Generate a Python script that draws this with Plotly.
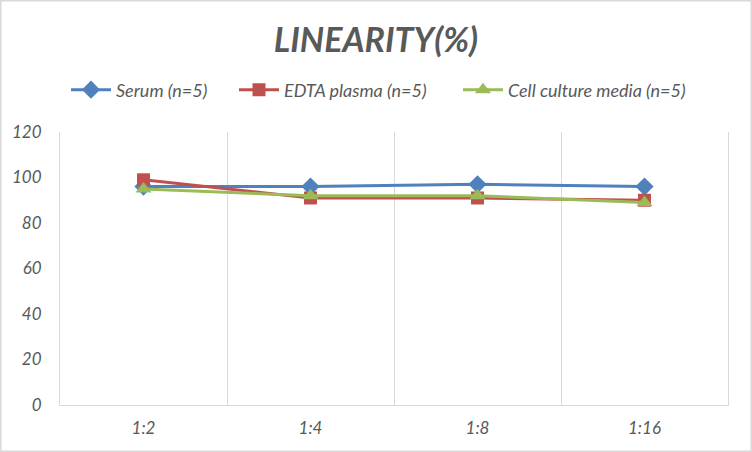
import plotly.graph_objects as go

categories = ["1:2", "1:4", "1:8", "1:16"]
serum = [96, 96, 97, 96]
edta = [99, 91, 91, 90]
cell = [95, 92, 92, 89]
y_ticks = [0, 20, 40, 60, 80, 100, 120]

series = [
    ("Serum (n=5)", serum, "#4F81BD", "diamond", 14, "legend", 66),
    ("EDTA plasma (n=5)", edta, "#C0504D", "square", 13, "legend2", 234),
    ("Cell culture media (n=5)", cell, "#9BBB59", "triangle-up", 14, "legend3", 458),
]

fig = go.Figure()
for name, vals, color, sym, sz, leg, _ in series:
    fig.add_trace(go.Scatter(
        x=categories, y=vals, name=name, mode="lines+markers",
        line=dict(color=color, width=3),
        marker=dict(symbol=sym, size=sz, color=color),
        legend=leg,
    ))

font_family = "Lato, 'Open Sans', sans-serif"
L, R, T, B = 60, 24, 132, 47
pw, ph = 752 - L - R, 452 - T - B

legend_common = dict(
    orientation="h", xanchor="left", y=1 + 42 / ph, yanchor="middle",
    font=dict(family=font_family, size=18, color="#595959", style="italic"),
    itemwidth=40, bgcolor="rgba(0,0,0,0)",
)
legends = {}
for _, _, _, _, _, leg, xpx in series:
    legends[leg] = dict(legend_common, x=(xpx - L) / pw)

fig.update_layout(
    width=752, height=452,
    paper_bgcolor="white", plot_bgcolor="white",
    margin=dict(l=L, r=R, t=T, b=B),
    title=dict(
        text="<b><i>LINEARITY(%)</i></b>",
        x=0.5, xanchor="center", y=1 - 40 / 452, yanchor="middle",
        font=dict(family=font_family, size=34, color="#595959"),
    ),
    xaxis=dict(
        type="category", range=[-0.5, 3.5],
        tickson="boundaries", showgrid=True, gridcolor="#D9D9D9", gridwidth=1,
        showline=True, linecolor="#D9D9D9", linewidth=1,
        ticks="", ticklen=0, ticklabelstandoff=8,
        tickfont=dict(family=font_family, size=17, color="#595959", style="italic"),
        fixedrange=True,
    ),
    yaxis=dict(
        range=[0, 120], tickvals=y_ticks, showgrid=False, zeroline=False,
        showline=True, mirror=True, linecolor="#D9D9D9", linewidth=1,
        tickfont=dict(family=font_family, size=17, color="#595959", style="italic"),
        ticklabelstandoff=14,
    ),
    showlegend=True,
    **legends,
)

fig.add_shape(type="rect", xref="paper", yref="paper", x0=-L / pw, x1=1 + R / pw,
              y0=-B / ph, y1=1 + T / ph, line=dict(color="#D9D9D9", width=3),
              layer="above")

fig.write_html(
    "out.html",
    config={"displayModeBar": False},
    post_script="document.body.style.margin='0';document.body.style.padding='0';",
)
